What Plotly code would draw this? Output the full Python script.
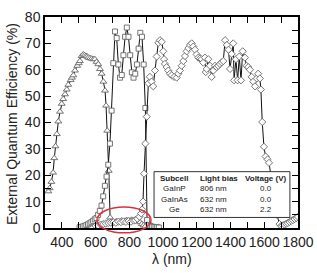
import plotly.graph_objects as go

# ---------------- data ----------------
gainp_wl = [320, 328, 338, 348, 355, 362, 370, 379, 389, 399, 408, 419, 429, 438, 452, 460,
            468, 478, 491, 500, 507, 517, 527, 535, 543, 550, 557, 567, 577, 587, 596, 606,
            616, 626, 636, 646, 656, 662, 669, 678, 686, 694,
            704, 714, 724, 734, 744, 754, 764, 774, 784, 794, 804, 814, 824, 834, 844, 854,
            864, 874, 884, 894]
gainp_eqe = [13.9, 15.1, 17.5, 21.0, 26.5, 31.0, 35.6, 40.4, 44.1, 47.1, 48.9, 50.7, 52.5, 54.3,
             56.1, 57.0, 57.9, 59.7, 61.5, 62.5, 63.3, 65.2, 65.8, 65.5, 65.2, 65.0, 64.6, 64.4,
             64.2, 64.0, 64.0, 63.0, 62.1, 60.3, 58.5, 55.5, 52.1, 46.4, 36.9, 21.7, 4.0, 2.0,
             1.8, 2.2, 2.6, 2.0, 2.4, 2.8, 2.3, 2.7, 3.0, 2.5, 2.8, 3.1, 2.6, 2.9, 3.2, 2.7,
             2.2, 1.5, 1.0, 0.6]

gainas_wl = [505, 515, 525, 535, 545, 555, 565, 575, 585, 595, 605, 615, 625, 635, 645, 655,
             665, 675, 685, 695, 705, 715, 725, 735, 745, 755, 765, 775, 785, 795, 805, 815,
             825, 835, 845, 855, 865, 875, 885, 895, 905, 915, 925, 935, 945, 955, 965, 975]
gainas_eqe = [0.3, 0.4, 0.6, 0.8, 1.1, 1.4, 1.8, 2.2, 2.7, 3.3, 3.8, 5.0, 6.5, 8.5, 12.0, 16.0,
              19.5, 24.0, 32.0, 44.5, 62.5, 74.5, 72.0, 62.0, 57.0, 58.0, 65.5, 72.5, 76.0, 72.5,
              65.5, 59.0, 57.0, 58.5, 62.0, 68.0, 74.0, 72.5, 62.0, 45.5, 3.0, 1.2, 0.8, 0.5,
              0.4, 0.3, 0.3, 0.2]

ge_wl = [600, 615, 630, 645, 660, 675, 690, 705, 720, 735, 750, 765, 780, 795, 810, 825, 835,
         848, 860, 870, 876, 881, 887, 895, 903, 913, 922, 932, 942, 952, 962, 972, 982, 992,
         1001, 1006, 1011, 1021, 1031, 1041, 1051, 1066, 1081, 1090, 1100, 1110, 1120, 1130,
         1140, 1150, 1160, 1170, 1179, 1189, 1199, 1209, 1219, 1229, 1238, 1248, 1253, 1259,
         1268, 1278, 1288, 1298, 1308, 1318, 1327, 1337, 1347, 1357, 1368, 1378, 1388, 1397,
         1407, 1416, 1421, 1432, 1442, 1452, 1462, 1472, 1485, 1495, 1505, 1515, 1525, 1535,
         1545, 1555, 1564, 1574, 1580, 1588, 1598, 1608, 1620, 1628, 1645, 1660, 1675, 1690,
         1700, 1710, 1720, 1730, 1740, 1750, 1760, 1770, 1780, 1790, 1800]
ge_eqe = [0.8, 1.0, 1.3, 1.5, 1.7, 1.9, 2.0, 2.2, 2.0, 2.4, 2.2, 2.5, 2.3, 2.6, 2.4, 2.8, 3.0,
          3.5, 4.3, 5.5, 7.0, 10.0, 20.6, 32.0, 42.2, 54.9, 57.3, 55.5, 53.7, 59.7, 65.0, 70.2,
          71.2, 70.6, 67.0, 64.0, 62.2, 61.0, 59.7, 58.5, 57.9, 57.3, 57.0, 58.5, 59.7, 61.5,
          63.3, 65.2, 67.0, 68.2, 69.4, 70.0, 68.8, 67.6, 65.8, 64.6, 64.3, 64.0, 62.7, 64.6,
          59.1, 60.3, 64.0, 61.5, 57.3, 59.7, 61.5, 61.0, 61.5, 62.2, 62.8, 63.3, 71.2, 69.4,
          67.6, 60.3, 66.0, 70.0, 56.0, 64.0, 56.0, 65.0, 56.0, 67.0, 64.6, 61.5, 61.0, 60.0,
          57.3, 55.5, 53.7, 56.7, 58.5, 56.7, 52.5, 40.2, 30.8, 27.1, 26.0, 24.7, 18.0, 11.0,
          5.0, 1.5, 0.8, 1.0, 1.3, 1.6, 1.9, 2.3, 2.7, 3.0, 3.4, 3.8, 4.2]

x_tick_vals = [400, 500, 600, 700, 800, 900, 1000, 1100, 1200, 1300, 1400, 1500, 1600, 1700, 1800]
x_tick_text = ["400", "", "600", "", "800", "", "1000", "", "1200", "", "1400", "", "1600", "", "1800"]
y_tick_vals = [0, 5, 10, 15, 20, 25, 30, 35, 40, 45, 50, 55, 60, 65, 70, 75, 80]
y_tick_text = ["0", "", "10", "", "20", "", "30", "", "40", "", "50", "", "60", "", "70", "", "80"]

table_header = ["Subcell", "Light bias", "Voltage (V)"]
subcells = ["GaInP", "GaInAs", "Ge"]
light_bias = ["806 nm", "632 nm", "632 nm"]
voltages = ["0.0", "0.0", "2.2"]

# ---------------- figure ----------------
FONT = "Liberation Sans, Arial, Helvetica, sans-serif"
LINE = "#111111"
MK = "#666666"

fig = go.Figure()


def add_series(x, y, symbol, size):
    fig.add_trace(go.Scatter(
        x=x, y=y, mode="lines+markers",
        line=dict(color=LINE, width=1),
        marker=dict(symbol=symbol, size=size, color="white",
                    line=dict(color=MK, width=0.9)),
        showlegend=False, cliponaxis=True))


add_series(gainp_wl, gainp_eqe, "triangle-up", 6)
add_series(gainas_wl, gainas_eqe, "square", 5)
add_series(ge_wl, ge_eqe, "diamond", 5.5)

axis_common = dict(
    showline=True, linecolor="black", linewidth=1.5, mirror="ticks",
    ticks="inside", ticklen=6, tickwidth=1.3, tickcolor="black",
    showgrid=False, zeroline=False,
    tickfont=dict(family=FONT, size=14, color="#222222"),
)

fig.update_xaxes(range=[300, 1800], tickmode="array", tickvals=x_tick_vals,
                 ticktext=x_tick_text, **axis_common)
fig.update_yaxes(range=[0, 80], tickmode="array", tickvals=y_tick_vals,
                 ticktext=y_tick_text, **axis_common)

shapes = [
    # legend table box
    dict(type="rect", xref="paper", yref="paper", x0=0.431, x1=0.968, y0=0.050, y1=0.267,
         line=dict(color="#333333", width=1), fillcolor="white", layer="above"),
    # red ellipse
    dict(type="circle", xref="paper", yref="paper", x0=0.2055, x1=0.419, y0=-0.023, y1=0.100,
         line=dict(color="#d8323c", width=1.5), fillcolor="rgba(0,0,0,0)", layer="above"),
]

annotations = []
hdr_y = 0.235
row_ys = [0.1855, 0.1357, 0.086]
col1_x, col2_x, col3_x = 0.51, 0.605, 0.8735
annotations.append(dict(x=col1_x, y=hdr_y, text="<b>%s</b>" % table_header[0], xanchor="center"))
annotations.append(dict(x=col2_x, y=hdr_y, text="<b>%s</b>" % table_header[1], xanchor="left"))
annotations.append(dict(x=col3_x, y=hdr_y, text="<b>%s</b>" % table_header[2], xanchor="center"))
for i in range(3):
    annotations.append(dict(x=col1_x, y=row_ys[i], text=subcells[i], xanchor="center"))
    annotations.append(dict(x=col2_x, y=row_ys[i], text=light_bias[i], xanchor="left"))
    annotations.append(dict(x=col3_x, y=row_ys[i], text=voltages[i], xanchor="center"))
for a in annotations:
    a.update(xref="paper", yref="paper", yanchor="middle", showarrow=False,
             font=dict(family=FONT, size=8, color="#222222"))

# axis titles
annotations.append(dict(x=0.5, y=-0.145, xref="paper", yref="paper", text="λ (nm)",
                        showarrow=False, xanchor="center", yanchor="middle",
                        font=dict(family=FONT, size=14, color="#222222")))
annotations.append(dict(x=-0.130, y=0.493, xref="paper", yref="paper",
                        text="External Quantum Efficiency (%)", textangle=-90,
                        showarrow=False, xanchor="center", yanchor="middle",
                        font=dict(family=FONT, size=14, color="#222222")))

fig.update_layout(
    width=317, height=273,
    margin=dict(l=45, r=19, t=9, b=43),
    plot_bgcolor="white", paper_bgcolor="white",
    showlegend=False,
    font=dict(family=FONT, size=14, color="#222222"),
    shapes=shapes, annotations=annotations,
)

fig.write_html("out.html")
